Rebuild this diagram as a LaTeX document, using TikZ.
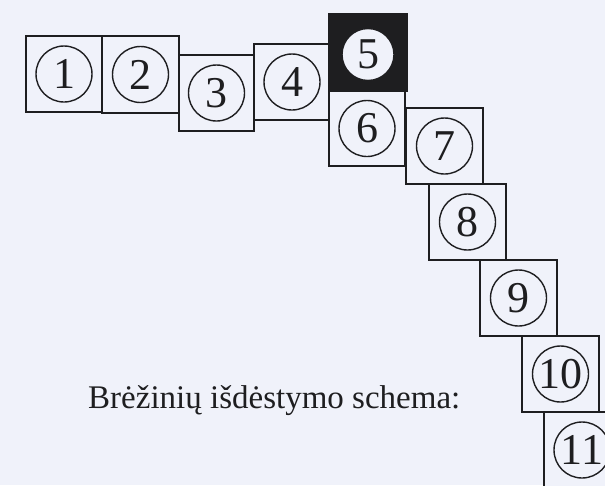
\documentclass[tikz,border=0pt]{standalone}
\usepackage{fontspec}
\setmainfont{Liberation Serif}
\definecolor{paper}{RGB}{240,242,250}
\definecolor{ink}{RGB}{30,30,32}
\tikzset{
  sheet/.style={draw=ink, line width=1.4pt, inner sep=0pt, outer sep=0pt, fill=paper},
  darksheet/.style={sheet, fill=ink},
  num/.style={circle, draw=ink, line width=1.4pt, minimum size=56pt, inner sep=0pt,
    text=ink, font=\fontsize{44}{44}\selectfont},
  caption/.style={anchor=base west, inner sep=0pt, text=ink, font=\fontsize{33}{33}\selectfont}
}
\newcommand\mkbox[6]{% name, left, top, right, bottom, style
  \node[#6, minimum width={(#4-#2)*1pt}, minimum height={(#5-#3)*1pt}]
    (#1) at ({(#2+#4)/2},{(#3+#5)/2}) {};}
\begin{document}
\begin{tikzpicture}[x=1pt,y=-1pt]
\useasboundingbox (0,0) rectangle (605,485);
\clip (0,0) rectangle (605,485);
\fill[paper] (0,0) rectangle (605,485);
\mkbox{b1}{26}{36}{102}{112}{sheet}
\mkbox{b2}{102}{36}{179}{113}{sheet}
\mkbox{b3}{179}{55}{254}{131}{sheet}
\mkbox{b4}{254}{44}{330}{120}{sheet}
\mkbox{b6}{329}{91}{405}{166}{sheet}
\mkbox{b5}{329}{14}{407}{91}{darksheet}
\mkbox{b7}{406}{108}{483}{184}{sheet}
\mkbox{b8}{429}{184}{506}{260}{sheet}
\mkbox{b9}{480}{260}{557}{336}{sheet}
\mkbox{b10}{522}{336}{599}{412}{sheet}
\mkbox{b11}{544}{412}{620}{488}{sheet}
\node[num] (c1) at (b1) {1};
\node[num] (c2) at (b2) {2};
\node[num] (c3) at (b3) {3};
\node[num] (c4) at (b4) {4};
\node[num, fill=paper, minimum size=52pt] (c5) at ([yshift=-2pt]b5.center) {5};
\node[num] (c6) at (b6) {6};
\node[num] (c7) at (b7) {7};
\node[num] (c8) at (b8) {8};
\node[num] (c9) at (b9) {9};
\node[num] (c10) at (b10) {10};
\node[num] (c11) at (b11) {11};
\node[caption] (cap) at (88,408) {Brėžinių išdėstymo schema:};
\end{tikzpicture}
\end{document}
